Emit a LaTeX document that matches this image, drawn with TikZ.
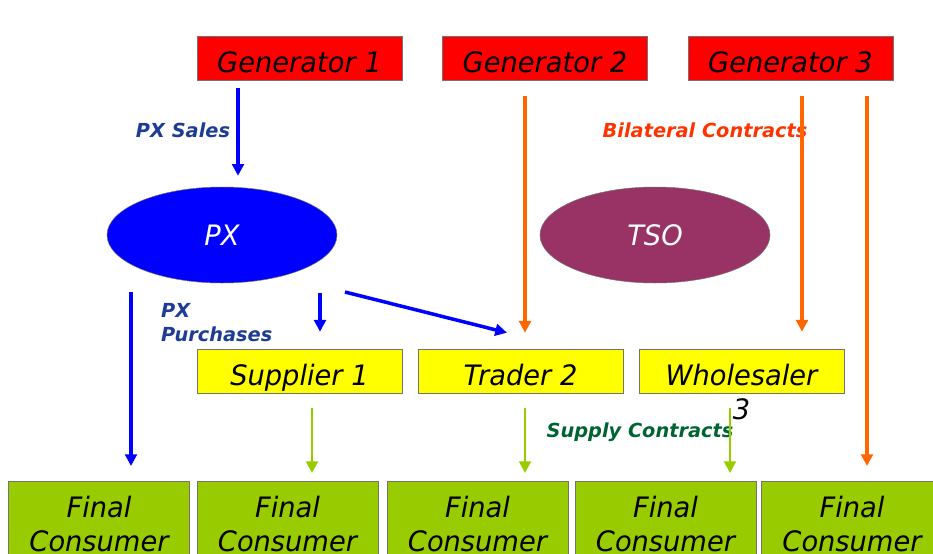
\documentclass[tikz,border=0pt]{standalone}
\usepackage{fontspec}
\setmainfont{DejaVu Sans}
\newfontfamily\boxfont[FakeStretch=0.97]{DejaVu Sans}
\usetikzlibrary{shapes.geometric,calc,arrows.meta}
\definecolor{genred}{RGB}{255,0,0}
\definecolor{midyellow}{RGB}{255,255,0}
\definecolor{consgreen}{RGB}{153,204,0}
\definecolor{tsopurple}{RGB}{153,51,102}
\definecolor{pxblue}{RGB}{0,0,255}
\definecolor{bilorange}{RGB}{255,102,0}
\definecolor{salesblue}{RGB}{30,60,150}
\definecolor{bilred}{RGB}{255,51,0}
\definecolor{supgreen}{RGB}{0,100,50}
\begin{document}
\begin{tikzpicture}[x=0.03cm,y=-0.03cm,>={Triangle[width=10pt,length=10pt]},
	box/.style={rectangle,draw=black!55,line width=0.5pt,minimum width=6.15cm,
		inner sep=0pt,font=\boxfont\itshape\fontsize{24}{29}\selectfont},
	gen/.style={box,fill=genred,minimum height=1.32cm,text height=24.7pt,text depth=0pt},
	mid/.style={box,fill=midyellow,minimum height=1.32cm,text height=24.7pt,text depth=0pt},
	cons/.style={box,fill=consgreen,anchor=north,minimum width=5.43cm,
		align=center,inner ysep=12.5pt},
	oval/.style={ellipse,draw=black!55,minimum width=6.9cm,minimum height=2.88cm,
		inner sep=0pt,text=white,font=\boxfont\itshape\fontsize{24}{29}\selectfont},
	lbl/.style={font=\bfseries\itshape\fontsize{16.5}{20.5}\selectfont},
	pxline/.style={->,draw=pxblue,line width=3pt},
	billine/.style={->,draw=bilorange,line width=2.6pt},
	supline/.style={->,draw=consgreen,line width=2.4pt}]
\useasboundingbox (0,0) rectangle (933,553);
\clip (0,0) rectangle (933,553);

\node[gen] (g1) at (299.5,58.5) {Generator 1};
\node[gen] (g2) at (545,58.5) {Generator 2};
\node[gen] (g3) at (790.5,58.5) {Generator 3};

\node[oval,fill=pxblue] (px) at (222,235) {PX};
\node[oval,fill=tsopurple] (tso) at (655,235) {TSO};

\node[mid] (sup1) at (299.5,371) {Supplier 1};
\node[mid] (tr2) at (520.5,371) {Trader 2};
\node[mid,label={[font=\boxfont\itshape\fontsize{24}{29}\selectfont,inner sep=0pt,label distance=4pt]below:3}] (wh3) at (741.5,371) {Wholesaler};

\node[cons] (fc1) at (99,481) {Final\\Consumer};
\node[cons] (fc2) at (287.5,481) {Final\\Consumer};
\node[cons] (fc3) at (477.5,481) {Final\\Consumer};
\node[cons] (fc4) at (665.5,481) {Final\\Consumer};
\node[cons] (fc5) at (852,481) {Final\\Consumer};

\node[lbl,text=salesblue] (sales) at (183,130) {PX Sales};
\node[lbl,text=salesblue,align=left,anchor=west] (purch) at (157,323) {PX\\Purchases};
\node[lbl,text=bilred] (bil) at (705,130) {Bilateral Contracts};
\node[lbl,text=supgreen] (supc) at (640,432) {Supply Contracts};

\draw[pxline] ($(g1.south)+(-61.5,7)$) -- ($(px.north)+(16,-11)$);
\draw[pxline] ($(px.south)+(-91,9)$) -- ($(fc1.north)+(32,-15)$);
\draw[pxline] ($(px.south)+(98,10)$) -- ($(sup1.north)+(20.5,-17)$);
\draw[pxline] ($(px.center)+(123,57)$) -- ($(tr2.north)+(-13.5,-16)$);

\draw[billine] ($(g2.south)+(-20,15)$) -- ($(tr2.north)+(4.5,-16)$);
\draw[billine] ($(g3.south)+(11.5,15)$) -- ($(wh3.north)+(60.5,-17)$);
\draw[billine] ($(g3.south)+(76.5,15)$) -- ($(fc5.north)+(15,-15)$);

\draw[supline] ($(sup1.south)+(12.5,15)$) -- ($(fc2.north)+(24.5,-8)$);
\draw[supline] ($(tr2.south)+(4.5,15)$) -- ($(fc3.north)+(47.5,-8)$);
\draw[supline] ($(wh3.south)+(-11.5,15)$) -- ($(fc4.north)+(64.5,-8)$);
\end{tikzpicture}
\end{document}
